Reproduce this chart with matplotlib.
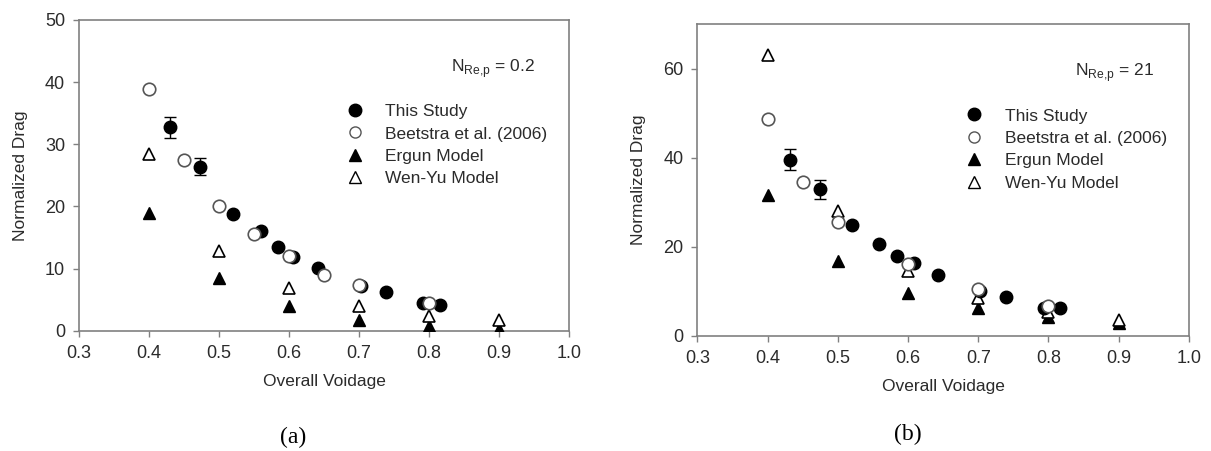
import matplotlib.pyplot as plt
from matplotlib.lines import Line2D

plt.rcParams['font.family'] = ['Liberation Sans', 'DejaVu Sans']

# ---- panel (a): N_Re,p = 0.2 ----
study_x_a = [0.43, 0.473, 0.52, 0.56, 0.585, 0.606, 0.642, 0.703, 0.738, 0.792, 0.816]
study_y_a = [32.7, 26.4, 18.8, 16.0, 13.5, 11.8, 10.1, 7.2, 6.3, 4.5, 4.1]
study_err_a = [1.7, 1.4, 0, 0, 0, 0, 0, 0, 0, 0, 0]
beet_x_a = [0.40, 0.45, 0.50, 0.55, 0.60, 0.65, 0.70, 0.80]
beet_y_a = [38.9, 27.5, 20.1, 15.6, 12.0, 9.0, 7.3, 4.5]
ergun_x_a = [0.4, 0.5, 0.6, 0.7, 0.8, 0.9]
ergun_y_a = [18.9, 8.5, 3.9, 1.7, 0.7, 0.2]
wenyu_x_a = [0.4, 0.5, 0.6, 0.7, 0.8, 0.9]
wenyu_y_a = [28.5, 12.8, 6.8, 4.0, 2.4, 1.7]

# ---- panel (b): N_Re,p = 21 ----
study_x_b = [0.432, 0.474, 0.52, 0.559, 0.585, 0.608, 0.643, 0.703, 0.74, 0.793, 0.817]
study_y_b = [39.6, 32.9, 24.9, 20.6, 17.8, 16.3, 13.6, 10.0, 8.8, 6.3, 6.2]
study_err_b = [2.3, 2.2, 0, 0, 0, 0, 0, 0, 0, 0, 0]
beet_x_b = [0.40, 0.45, 0.50, 0.60, 0.70, 0.80]
beet_y_b = [48.6, 34.6, 25.6, 16.0, 10.4, 6.6]
ergun_x_b = [0.4, 0.5, 0.6, 0.7, 0.8, 0.9]
ergun_y_b = [31.6, 16.8, 9.5, 6.2, 4.3, 2.8]
wenyu_x_b = [0.4, 0.5, 0.6, 0.7, 0.8, 0.9]
wenyu_y_b = [63.1, 28.1, 14.6, 8.4, 5.4, 3.5]

xticks = [0.3, 0.4, 0.5, 0.6, 0.7, 0.8, 0.9, 1.0]
labels = ['This Study', 'Beetstra et al. (2006)', 'Ergun Model', 'Wen-Yu Model']

fig = plt.figure(figsize=(12.11, 4.51), dpi=100)
ax_a = fig.add_axes([0.0652, 0.2667, 0.4046, 0.689])
ax_b = fig.add_axes([0.5758, 0.2557, 0.406, 0.6905])

spine_col = '#808080'
text_col = '#2b2b2b'


def draw_panel(ax, sx, sy, serr, bx, by, ex, ey, wx, wy, ylim, yticks, re_text):
    ax.errorbar(sx, sy, yerr=serr, fmt='o', color='black', ms=9, capsize=4,
                elinewidth=1, capthick=1, zorder=4)
    ax.plot(bx, by, 'o', mfc='white', mec='#555555', mew=1.2, ms=9, zorder=5)
    ax.plot(ex, ey, '^', color='black', ms=8.5, zorder=3)
    ax.plot(wx, wy, '^', mfc='white', mec='black', mew=1.2, ms=8.5, zorder=3)
    ax.set_xlim(0.3, 1.0)
    ax.set_ylim(*ylim)
    ax.set_xticks(xticks)
    ax.set_xticklabels(['%.1f' % t for t in xticks])
    ax.set_yticks(yticks)
    for s in ax.spines.values():
        s.set_color(spine_col)
        s.set_linewidth(1.2)
    ax.tick_params(direction='out', length=4, width=1, color=spine_col,
                   labelsize=13, labelcolor=text_col, pad=6)
    ax.set_xlabel('Overall Voidage', fontsize=12.5, color=text_col, labelpad=9)
    ax.set_ylabel('Normalized Drag', fontsize=12.5, color=text_col, labelpad=12)
    ax.text(0.93, 0.845, re_text, transform=ax.transAxes, ha='right',
            va='center', fontsize=12.5, color=text_col)
    # plain marker handles in legend
    hs = [Line2D([], [], ls='', marker='o', color='black', ms=9),
          Line2D([], [], ls='', marker='o', mfc='white', mec='#555555', mew=1, ms=8),
          Line2D([], [], ls='', marker='^', color='black', ms=8),
          Line2D([], [], ls='', marker='^', mfc='white', mec='black', mew=1, ms=8)]
    leg = ax.legend(hs, labels, loc='upper left', bbox_to_anchor=(0.505, 0.78),
                    frameon=False, fontsize=12.5, handletextpad=1.0,
                    labelspacing=0.42, handlelength=1.5)
    for t in leg.get_texts():
        t.set_color(text_col)


draw_panel(ax_a, study_x_a, study_y_a, study_err_a, beet_x_a, beet_y_a,
           ergun_x_a, ergun_y_a, wenyu_x_a, wenyu_y_a, (0, 50),
           [0, 10, 20, 30, 40, 50], r'N$_{\mathregular{Re{,}p}}$ = 0.2')
draw_panel(ax_b, study_x_b, study_y_b, study_err_b, beet_x_b, beet_y_b,
           ergun_x_b, ergun_y_b, wenyu_x_b, wenyu_y_b, (0, 70),
           [0, 20, 40, 60], r'N$_{\mathregular{Re{,}p}}$ = 21')

fig.text(293 / 1211, 1 - 437 / 451, '(a)', ha='center', va='center',
         fontsize=17, family='Liberation Serif')
fig.text(908 / 1211, 1 - 434 / 451, '(b)', ha='center', va='center',
         fontsize=17, family='Liberation Serif')

fig.savefig('out.png', dpi=100)
